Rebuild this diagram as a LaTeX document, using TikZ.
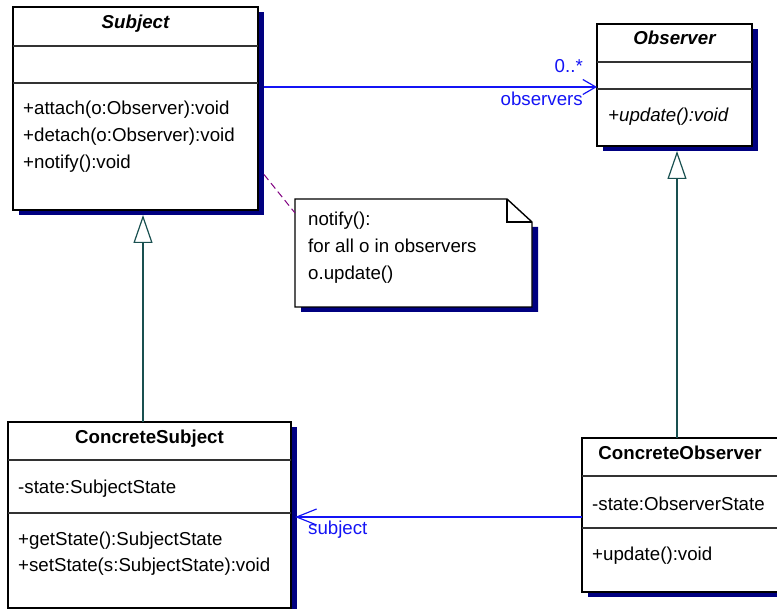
\documentclass[tikz,border=0pt]{standalone}
\usepackage{fontspec}
\setmainfont{Liberation Sans}
\usetikzlibrary{arrows.meta,shadows,calc}
\definecolor{shadownavy}{RGB}{0,0,128}
\definecolor{assocblue}{RGB}{20,20,245}
\definecolor{genteal}{RGB}{25,80,80}
\definecolor{notepurple}{RGB}{128,0,128}
\definecolor{divgray}{RGB}{50,50,50}
\begin{document}
\begin{tikzpicture}[x=1pt,y=-1pt,
  cls/.style={draw=black, line width=1.4pt, fill=white, inner sep=0pt, outer sep=0pt,
    drop shadow={shadow xshift=6pt, shadow yshift=-5pt, fill=shadownavy, opacity=1}},
  div/.style={draw=divgray, line width=1.2pt},
  txt/.style={inner sep=0pt, anchor=base west, font=\fontsize{18.7}{22}\selectfont},
  ttl/.style={inner sep=0pt, anchor=base, font=\fontsize{18.7}{22}\selectfont\bfseries},
  lbl/.style={inner sep=0pt, text=assocblue, font=\fontsize{18.7}{22}\selectfont},
  gen/.style={draw=genteal, line width=1.2pt, -{Triangle[open, length=28pt, width=19pt]}},
  assoc/.style={draw=assocblue, line width=1.2pt},
]
\useasboundingbox (0,0) rectangle (777,609);

% Subject
\node[cls, minimum width=245pt, minimum height=203pt] (subject) at (135.5,108.5) {};
\draw[div] ([yshift=-39pt]subject.north west) -- ([yshift=-39pt]subject.north east);
\draw[div] ([yshift=-76pt]subject.north west) -- ([yshift=-76pt]subject.north east);
\node[ttl, font=\fontsize{18.7}{22}\selectfont\bfseries\itshape] (subjectT) at (135.5,29) {Subject};
\node[txt] (sm1) at (23,115) {+attach(o:Observer):void};
\node[txt] (sm2) at (23,142) {+detach(o:Observer):void};
\node[txt] (sm3) at (23,169) {+notify():void};

% Observer
\node[cls, minimum width=155pt, minimum height=122pt] (observer) at (674.5,85) {};
\draw[div] ([yshift=-38pt]observer.north west) -- ([yshift=-38pt]observer.north east);
\draw[div] ([yshift=-65pt]observer.north west) -- ([yshift=-65pt]observer.north east);
\node[ttl, font=\fontsize{18.7}{22}\selectfont\bfseries\itshape] (observerT) at (674.5,44.5) {Observer};
\node[txt, font=\fontsize{18.7}{22}\selectfont\itshape] (om1) at (608,122) {+update():void};

% ConcreteSubject
\node[cls, minimum width=283pt, minimum height=186pt] (csubj) at (149.5,515) {};
\draw[div] ([yshift=-38pt]csubj.north west) -- ([yshift=-38pt]csubj.north east);
\draw[div] ([yshift=-91pt]csubj.north west) -- ([yshift=-91pt]csubj.north east);
\node[ttl] (csubjT) at (149.5,443.5) {ConcreteSubject};
\node[txt] (ca1) at (18,494) {-state:SubjectState};
\node[txt] (cm1) at (18,545) {+getState():SubjectState};
\node[txt] (cm2) at (18,572) {+setState(s:SubjectState):void};

% ConcreteObserver
\node[cls, minimum width=196pt, minimum height=154pt] (cobs) at (680,515) {};
\draw[div] ([yshift=-38pt]cobs.north west) -- ([yshift=-38pt]cobs.north east);
\draw[div] ([yshift=-90pt]cobs.north west) -- ([yshift=-90pt]cobs.north east);
\node[ttl] (cobsT) at (680,459.5) {ConcreteObserver};
\node[txt] (coa1) at (592,510.5) {-state:ObserverState};
\node[txt] (com1) at (592,560) {+update():void};

% Note
\node[minimum width=237pt, minimum height=108pt, inner sep=0pt, outer sep=0pt] (note) at (413.5,253) {};
\fill[shadownavy] ($(note.north east)+(6,28)$) -- ($(note.south east)+(6,5)$) -- ($(note.south west)+(6,5)$) -- ($(note.south west)+(6,0)$) -- ($(note.south east)+(0,0)$) -- ($(note.north east)+(0,28)$) -- cycle;
\draw[line width=1.4pt, fill=white] (note.north west) -- ($(note.north east)+(-25,0)$) -- ($(note.north east)+(0,23)$) -- (note.south east) -- (note.south west) -- cycle;
\draw[line width=1.2pt] ($(note.north east)+(-25,0)$) -- ($(note.north east)+(-25,23)$) -- ($(note.north east)+(0,23)$);
\node[txt] (n1) at (308,226) {notify():};
\node[txt] (n2) at (308,253) {for all o in observers};
\node[txt] (n3) at (308,280) {o.update()};
\draw[draw=notepurple, line width=1pt, dash pattern=on 7pt off 4pt] ([xshift=6pt, yshift=-66pt]subject.east) -- ([yshift=40pt]note.west);

% Generalizations
\draw[gen] ([xshift=-6.5pt]csubj.north) -- ([xshift=7.5pt, yshift=-5pt]subject.south);
\draw[gen] ([xshift=-3pt]cobs.north) -- ([xshift=2.5pt, yshift=-5pt]observer.south);

% Associations
\draw[assoc, -{Straight Barb[length=13pt, width=15pt]}] ([xshift=6pt, yshift=21.5pt]subject.east) -- ([yshift=-2pt]observer.west);
\node[lbl, anchor=base east] (mult) at (583,73) {0..*};
\node[lbl, anchor=base east] (role1) at (583,106) {observers};
\draw[assoc, -{Straight Barb[length=20pt, width=16pt]}] ([yshift=-2pt]cobs.west) -- ([xshift=4pt, yshift=-2pt]csubj.east);
\node[lbl, anchor=base west] (role2) at (308,535) {subject};
\end{tikzpicture}
\end{document}
